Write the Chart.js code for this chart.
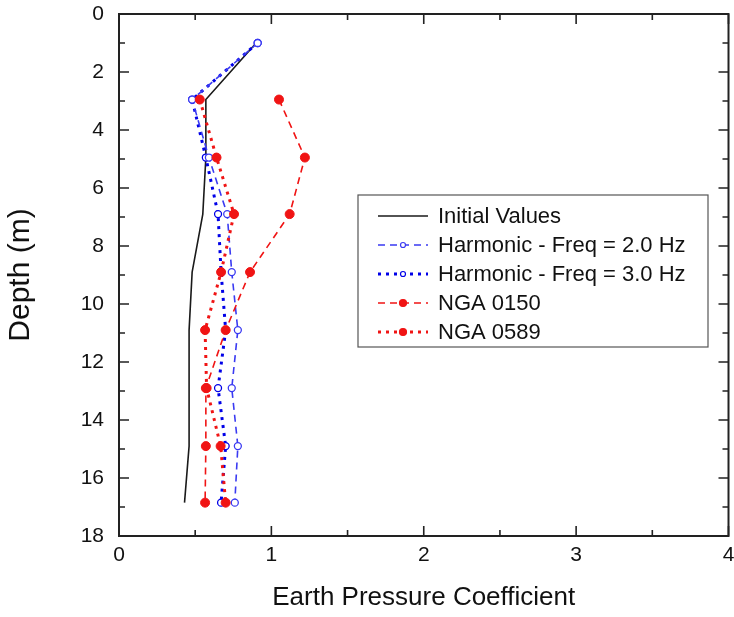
<!DOCTYPE html>
<html>
<head>
<meta charset="utf-8">
<script src="https://cdn.jsdelivr.net/npm/chart.js@4.4.0/dist/chart.umd.min.js"></script>
<style>
html,body{margin:0;padding:0;background:#fff;}
#wrap{width:734px;height:617px;}
</style>
</head>
<body>
<div id="wrap"><canvas id="chart" width="734" height="617"></canvas></div>
<script>
// depth of each reading (m)
const depths = [1, 2.95, 4.95, 6.9, 8.9, 10.9, 12.9, 14.9, 16.85];

const initialValues = [0.9, 0.57, 0.57, 0.55, 0.48, 0.46, 0.46, 0.46, 0.43];
const harmonic20 = [0.91, 0.48, 0.59, 0.71, 0.74, 0.78, 0.74, 0.78, 0.76];
const harmonic30 = [0.91, 0.48, 0.57, 0.65, 0.67, 0.70, 0.65, 0.70, 0.67];
const nga0150 = [null, 1.05, 1.22, 1.12, 0.86, 0.70, 0.57, 0.57, 0.565];
const nga0589 = [null, 0.53, 0.64, 0.755, 0.67, 0.565, 0.575, 0.667, 0.70];

const seriesNames = ['Initial Values', 'Harmonic - Freq = 2.0 Hz', 'Harmonic - Freq = 3.0 Hz', 'NGA 0150', 'NGA 0589'];
const xTicks = [0, 1, 2, 3, 4];
const yTicks = [0, 2, 4, 6, 8, 10, 12, 14, 16, 18];
const xMinorStep = 0.5;
const yMinorStep = 1;

const FONT = '"Liberation Sans", Arial, sans-serif';
const BLUE_LT = '#3a3af2';
const BLUE = '#0000e8';
const RED = '#f01414';

function pts(vals){
    return depths.map((d,i)=>({x:vals[i], y:d})).filter(p=>p.x!==null);
}

const framePlugin = {
    id:'frame',
    afterDatasetsDraw(chart){
        const {ctx, chartArea:a, scales:{x, y}} = chart;
        ctx.save();
        ctx.strokeStyle = '#222';
        ctx.lineWidth = 2;
        ctx.strokeRect(a.left, a.top, a.right-a.left, a.bottom-a.top);
        ctx.lineWidth = 1.6;
        ctx.beginPath();
        const x0 = xTicks[0], x1 = xTicks[xTicks.length-1];
        for(let v=x0; v<=x1+1e-9; v+=xMinorStep){
            const px = x.getPixelForValue(v);
            const len = xTicks.includes(v) ? 10 : 6;
            ctx.moveTo(px, a.bottom); ctx.lineTo(px, a.bottom-len);
            ctx.moveTo(px, a.top); ctx.lineTo(px, a.top+len);
        }
        const y0 = yTicks[0], y1 = yTicks[yTicks.length-1];
        for(let v=y0; v<=y1+1e-9; v+=yMinorStep){
            const py = y.getPixelForValue(v);
            const len = yTicks.includes(v) ? 10 : 6;
            ctx.moveTo(a.left, py); ctx.lineTo(a.left+len, py);
            ctx.moveTo(a.right, py); ctx.lineTo(a.right-len, py);
        }
        ctx.stroke();
        ctx.restore();
    }
};

const legendPlugin = {
    id:'boxLegend',
    afterDraw(chart){
        const ctx = chart.ctx;
        const bx = 358, by = 195, bw = 350, bh = 152;
        ctx.save();
        ctx.fillStyle = '#fff';
        ctx.fillRect(bx, by, bw, bh);
        ctx.strokeStyle = '#555';
        ctx.lineWidth = 1.2;
        ctx.strokeRect(bx, by, bw, bh);
        chart.data.datasets.forEach((ds,i)=>{
            const cy = by + 21 + i*29;
            ctx.strokeStyle = ds.borderColor;
            ctx.lineWidth = ds.borderWidth;
            ctx.setLineDash(ds.borderDash || []);
            ctx.beginPath();
            ctx.moveTo(bx+20, cy); ctx.lineTo(bx+70, cy);
            ctx.stroke();
            ctx.setLineDash([]);
            if(ds.pointRadius > 0){
                ctx.beginPath();
                ctx.arc(bx+45, cy, ds.pointRadius-1, 0, Math.PI*2);
                ctx.fillStyle = ds.pointBackgroundColor;
                ctx.fill();
                ctx.lineWidth = 1.2;
                ctx.strokeStyle = ds.pointBorderColor;
                ctx.stroke();
            }
            ctx.fillStyle = '#111';
            ctx.font = '22px ' + FONT;
            ctx.textBaseline = 'middle';
            ctx.fillText(ds.label, bx+80, cy+1);
        });
        ctx.restore();
    }
};

new Chart(document.getElementById('chart'),{
    type:'scatter',
    data:{
        datasets:[
            {label:seriesNames[0], data:pts(initialValues), showLine:true, borderColor:'#1a1a1a', borderWidth:1.6,
             pointRadius:0, order:3},
            {label:seriesNames[1], data:pts(harmonic20), showLine:true, borderColor:BLUE_LT, borderWidth:1.6, borderDash:[7,5],
             pointRadius:3.5, pointBackgroundColor:'#fff', pointBorderColor:BLUE_LT, pointBorderWidth:1.3, order:2},
            {label:seriesNames[2], data:pts(harmonic30), showLine:true, borderColor:BLUE, borderWidth:3, borderDash:[3,5],
             pointRadius:3.5, pointBackgroundColor:'#fff', pointBorderColor:BLUE, pointBorderWidth:1.3, order:2},
            {label:seriesNames[3], data:pts(nga0150), showLine:true, borderColor:RED, borderWidth:1.6, borderDash:[7,5],
             pointRadius:4.5, pointBackgroundColor:RED, pointBorderColor:RED, pointBorderWidth:1, order:1},
            {label:seriesNames[4], data:pts(nga0589), showLine:true, borderColor:RED, borderWidth:3, borderDash:[3,5],
             pointRadius:4.5, pointBackgroundColor:RED, pointBorderColor:RED, pointBorderWidth:1, order:1}
        ]
    },
    options:{
        responsive:false,
        animation:false,
        layout:{padding:{top:14, right:3, left:0, bottom:0}},
        plugins:{legend:{display:false}, tooltip:{enabled:false}},
        scales:{
            x:{
                type:'linear', position:'bottom', min:0, max:4,
                afterBuildTicks:s=>{s.ticks = xTicks.map(v=>({value:v}));},
                afterFit:s=>{s.height = 81; s.paddingLeft = 0; s.paddingRight = 0;},
                grid:{display:false, drawTicks:false}, border:{display:false},
                ticks:{color:'#111', font:{size:21, family:FONT}, padding:7},
                title:{display:true, text:'Earth Pressure Coefficient', color:'#111', font:{size:26, family:FONT}, padding:{top:0,bottom:4}}
            },
            y:{
                type:'linear', reverse:true, min:0, max:18,
                afterBuildTicks:s=>{s.ticks = yTicks.map(v=>({value:v}));},
                afterFit:s=>{s.width = 119; s.paddingTop = 0; s.paddingBottom = 0;},
                grid:{display:false, drawTicks:false}, border:{display:false},
                ticks:{color:'#111', font:{size:21, family:FONT}, padding:15},
                title:{display:true, text:'Depth (m)', color:'#111', font:{size:30, family:FONT}, padding:{top:3,bottom:0}}
            }
        }
    },
    plugins:[framePlugin, legendPlugin]
});
</script>
</body>
</html>
